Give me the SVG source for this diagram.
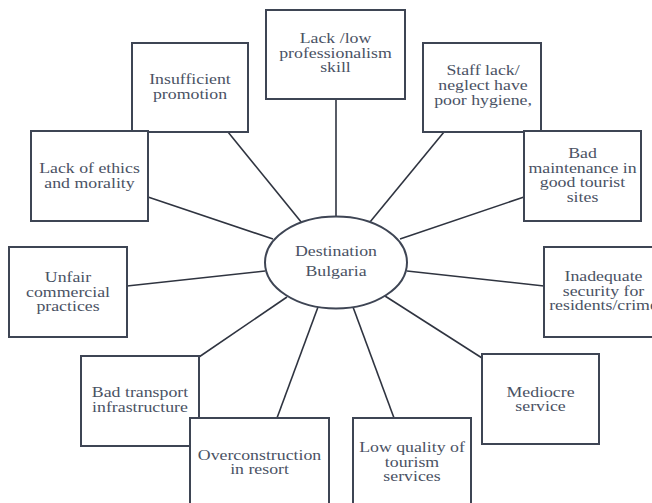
<svg xmlns="http://www.w3.org/2000/svg" width="652" height="503" viewBox="0 0 652 503">
<style>
.box{fill:#fff;stroke:#3e4554;stroke-width:2}
.hub{fill:#fff;stroke:#3e4554;stroke-width:2}
.ln{stroke:#2f3440;stroke-width:1.6;fill:none}
.t{font-family:"Liberation Serif","Times New Roman",serif;font-size:14px;fill:#4a5264;text-anchor:middle}
</style>
<rect width="652" height="503" fill="#fff"/>
<g id="connectors">
<line class="ln" x1="336" y1="99" x2="336" y2="217"/>
<line class="ln" x1="228" y1="132" x2="302" y2="223"/>
<line class="ln" x1="444" y1="132" x2="370" y2="222"/>
<line class="ln" x1="148" y1="197" x2="273" y2="239"/>
<line class="ln" x1="524" y1="197" x2="400" y2="239"/>
<line class="ln" x1="127" y1="286" x2="265" y2="271"/>
<line class="ln" x1="544" y1="286" x2="407" y2="271"/>
<line class="ln" x1="199" y1="357" x2="287" y2="297"/>
<line class="ln" x1="482" y1="358" x2="385" y2="296"/>
<line class="ln" x1="277" y1="418" x2="318" y2="307"/>
<line class="ln" x1="394" y1="418" x2="353" y2="307"/>
</g>
<g id="hub">
<ellipse class="hub" cx="336" cy="262.5" rx="71" ry="46"/>
<text class="t" transform="matrix(1.27 0 0 1 336 0)"><tspan x="0" y="256">Destination</tspan><tspan x="0" y="276">Bulgaria</tspan></text>
</g>
<g id="n-professionalism">
<rect class="box" x="266" y="10" width="139" height="89"/>
<text class="t" transform="matrix(1.27 0 0 1 335.5 0)"><tspan x="0" y="43">Lack /low</tspan><tspan x="0" y="58">professionalism</tspan><tspan x="0" y="72">skill</tspan></text>
</g>
<g id="n-promotion">
<rect class="box" x="132" y="43" width="116" height="89"/>
<text class="t" transform="matrix(1.27 0 0 1 190 0)"><tspan x="0" y="84">Insufficient</tspan><tspan x="0" y="99">promotion</tspan></text>
</g>
<g id="n-hygiene">
<rect class="box" x="423" y="43" width="118" height="89"/>
<text class="t" transform="matrix(1.27 0 0 1 483 0)"><tspan x="0" y="75">Staff lack/</tspan><tspan x="0" y="90">neglect  have</tspan><tspan x="0" y="105">poor hygiene,</tspan></text>
</g>
<g id="n-ethics">
<rect class="box" x="31" y="131" width="117" height="90"/>
<text class="t" transform="matrix(1.27 0 0 1 89.5 0)"><tspan x="0" y="173">Lack of ethics</tspan><tspan x="0" y="188">and morality</tspan></text>
</g>
<g id="n-maintenance">
<rect class="box" x="524" y="131" width="117" height="90"/>
<text class="t" transform="matrix(1.27 0 0 1 582.5 0)"><tspan x="0" y="158">Bad</tspan><tspan x="0" y="173">maintenance in</tspan><tspan x="0" y="187">good tourist</tspan><tspan x="0" y="202">sites</tspan></text>
</g>
<g id="n-unfair">
<rect class="box" x="9" y="247" width="118" height="90"/>
<text class="t" transform="matrix(1.27 0 0 1 68 0)"><tspan x="0" y="282">Unfair</tspan><tspan x="0" y="297">commercial</tspan><tspan x="0" y="311">practices</tspan></text>
</g>
<g id="n-security">
<rect class="box" x="544" y="247" width="120" height="90"/>
<text class="t" transform="matrix(1.27 0 0 1 603.5 0)"><tspan x="0" y="281">Inadequate</tspan><tspan x="0" y="296">security for</tspan><tspan x="0" y="310">residents/crime</tspan></text>
</g>
<g id="n-transport">
<rect class="box" x="81" y="356" width="118" height="90"/>
<text class="t" transform="matrix(1.27 0 0 1 140 0)"><tspan x="0" y="397">Bad transport</tspan><tspan x="0" y="412">infrastructure</tspan></text>
</g>
<g id="n-mediocre">
<rect class="box" x="482" y="354" width="117" height="90"/>
<text class="t" transform="matrix(1.27 0 0 1 540.5 0)"><tspan x="0" y="397">Mediocre</tspan><tspan x="0" y="411">service</tspan></text>
</g>
<g id="n-overconstruction">
<rect class="box" x="190" y="418" width="139" height="95"/>
<text class="t" transform="matrix(1.27 0 0 1 259.5 0)"><tspan x="0" y="460">Overconstruction</tspan><tspan x="0" y="474">in resort</tspan></text>
</g>
<g id="n-quality">
<rect class="box" x="353" y="418" width="118" height="95"/>
<text class="t" transform="matrix(1.27 0 0 1 412 0)"><tspan x="0" y="452">Low quality of</tspan><tspan x="0" y="467">tourism</tspan><tspan x="0" y="481">services</tspan></text>
</g>
</svg>
